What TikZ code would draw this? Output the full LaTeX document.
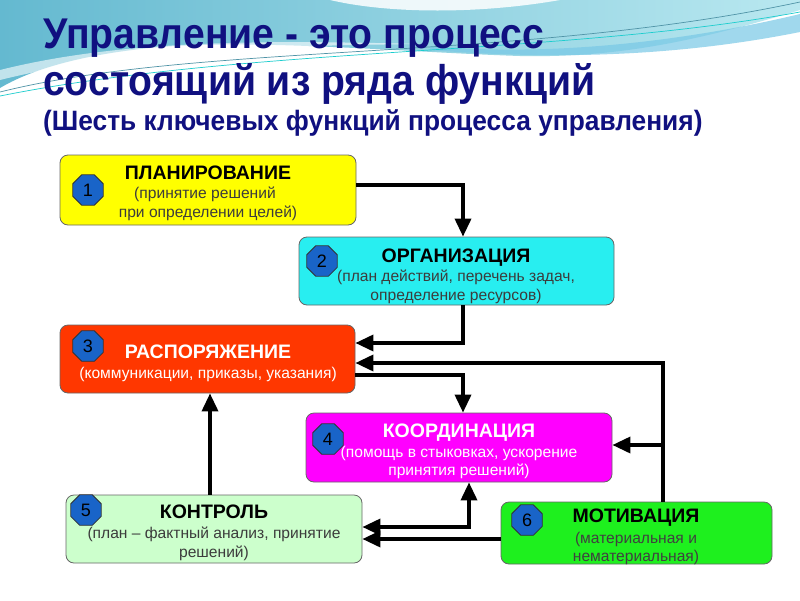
\documentclass[tikz,border=0pt]{standalone}
\usepackage{fontspec}
\setmainfont{Liberation Sans}
\newfontfamily\titlefont[FakeStretch=0.91]{Liberation Sans}
\newfontfamily\subtitlefont[FakeStretch=0.94]{Liberation Sans}
\usetikzlibrary{arrows.meta,shapes.geometric,calc}
\definecolor{navy}{RGB}{16,16,128}
\definecolor{tealA}{RGB}{100,185,208}
\definecolor{tealB}{RGB}{185,232,240}
\definecolor{bandC}{RGB}{120,200,230}
\definecolor{cYellow}{RGB}{255,255,0}
\definecolor{cCyan}{RGB}{40,238,240}
\definecolor{cRed}{RGB}{255,55,0}
\definecolor{cMag}{RGB}{255,0,255}
\definecolor{cLight}{RGB}{204,255,204}
\definecolor{cGreen}{RGB}{30,240,30}
\definecolor{octBlue}{RGB}{25,100,200}
\definecolor{subGray}{RGB}{60,60,60}
\tikzset{
  fbox/.style={draw=black!60, line width=0.8pt, rounded corners=8pt, inner sep=0pt},
  oct/.style={regular polygon, regular polygon sides=8, minimum size=33pt, inner sep=0pt,
    fill=octBlue, draw=black!80, line width=0.8pt, font=\fontsize{18}{18}\selectfont},
  head/.style={anchor=base, inner sep=0pt, font=\bfseries\fontsize{19.5}{19.5}\selectfont},
  sub/.style={anchor=base, inner sep=0pt, font=\fontsize{15.6}{15.6}\selectfont, text=subGray},
  ttl/.style={anchor=base west, inner sep=0pt, text=navy},
  conn/.style={line width=3.5pt, draw=black, line join=miter},
  tip/.style={-{Triangle[length=18pt, width=16pt]}},
  tips/.style={{Triangle[length=18pt, width=16pt]}-{Triangle[length=18pt, width=16pt]}}
}
\begin{document}
\begin{tikzpicture}[x=1pt,y=-1pt]
\useasboundingbox (0,0) rectangle (800,600);
\fill[white] (0,0) rectangle (800,600);
% wave background
\shade[left color=tealA, right color=tealB] (0,0) -- (800,0) -- (800,10)
  .. controls (700,40) and (620,58) .. (520,56)
  .. controls (400,52) and (250,38) .. (150,48)
  .. controls (80,55) and (30,70) .. (0,88) -- cycle;
\fill[bandC, opacity=0.7] (430,46) .. controls (560,58) and (700,38) .. (800,14)
  -- (800,32) .. controls (700,52) and (580,62) .. (430,50) -- cycle;
\fill[white, opacity=0.85] (330,0) .. controls (390,14) and (480,14) .. (560,0) -- cycle;
\fill[white, opacity=0.6] (0,70) .. controls (120,40) and (260,40) .. (420,44)
  .. controls (260,46) and (120,50) .. (0,80) -- cycle;
\draw[tealA!80!black, line width=0.7pt] (0,92) .. controls (200,42) and (520,62) .. (800,2);
\draw[cCyan!70!teal, line width=0.7pt] (0,96) .. controls (250,46) and (560,56) .. (800,12);

% title
\node[ttl, font=\titlefont\bfseries\fontsize{43}{43}\selectfont] (t1) at (43,48) {Управление - это процесс};
\node[ttl, font=\titlefont\bfseries\fontsize{43}{43}\selectfont] (t2) at (43,95) {состоящий из ряда функций};
\node[ttl, font=\subtitlefont\bfseries\fontsize{28}{28}\selectfont] (t3) at (43,130) {(Шесть ключевых функций процесса управления)};

% boxes
\node[fbox, fill=cYellow, minimum width=296pt, minimum height=70pt] (b1) at (208,190) {};
\node[fbox, fill=cCyan, minimum width=315pt, minimum height=68pt] (b2) at (456.5,271) {};
\node[fbox, fill=cRed, minimum width=295pt, minimum height=68pt] (b3) at (207.5,359) {};
\node[fbox, fill=cMag, minimum width=306pt, minimum height=69pt] (b4) at (459,447.5) {};
\node[fbox, fill=cLight, minimum width=296pt, minimum height=68pt] (b5) at (214,529) {};
\node[fbox, fill=cGreen, minimum width=271pt, minimum height=62pt] (b6) at (636.5,533) {};

% octagons
\node[oct] (o1) at (88,190) {1};
\node[oct] (o2) at (322,261) {2};
\node[oct] (o3) at (88,346) {3};
\node[oct] (o4) at (328,439) {4};
\node[oct] (o5) at (86,510) {5};
\node[oct] (o6) at (527,520) {6};

% texts
\node[head] (h1) at (208,179) {ПЛАНИРОВАНИЕ};
\node[sub] (s1a) at (205,198) {(принятие решений};
\node[sub] (s1b) at (208,217) {при определении целей)};

\node[head] (h2) at (456,262) {ОРГАНИЗАЦИЯ};
\node[sub] (s2a) at (456,281) {(план действий, перечень задач,};
\node[sub] (s2b) at (456,300) {определение ресурсов)};

\node[head, text=white] (h3) at (208,358) {РАСПОРЯЖЕНИЕ};
\node[sub, text=white] (s3a) at (208,378) {(коммуникации, приказы, указания)};

\node[head, text=white] (h4) at (459,437) {КООРДИНАЦИЯ};
\node[sub, text=white] (s4a) at (459,457) {(помощь в стыковках, ускорение};
\node[sub, text=white] (s4b) at (459,475) {принятия решений)};

\node[head] (h5) at (214,518) {КОНТРОЛЬ};
\node[sub] (s5a) at (214,538) {(план – фактный анализ, принятие};
\node[sub] (s5b) at (214,557) {решений)};

\node[head] (h6) at (636,522) {МОТИВАЦИЯ};
\node[sub, text=black!75] (s6a) at (636,543) {(материальная и};
\node[sub, text=black!75] (s6b) at (636,561) {нематериальная)};

% guide coordinates
\coordinate (xa) at (463,0);
\coordinate (xm) at (663,0);
\coordinate (xk) at (469,0);
\coordinate (xc) at (210,0);
\coordinate (y1) at (0,185);
\coordinate (y2) at (0,343);
\coordinate (y3) at (0,363);
\coordinate (y4) at (0,375);
\coordinate (y5) at (0,445);
\coordinate (y6) at (0,527);
\coordinate (y7) at (0,539);
\coordinate (jm) at (663,445);

% connectors
\draw[conn, tip] (b1.east |- y1) -| (b2.north -| xa);
\draw[conn, tip] (b2.south -| xa) |- (b3.east |- y2);
\draw[conn, tip] (b6.north -| xm) |- (b3.east |- y3);
\draw[conn, tip] (jm) -- (b4.east |- y5);
\draw[conn, tip] (b3.east |- y4) -| (b4.north -| xa);
\draw[conn, tip] (b5.north -| xc) -- (b3.south -| xc);
\draw[conn, tips] (b5.east |- y6) -| (b4.south -| xk);
\draw[conn, tip] (b6.west |- y7) -- (b5.east |- y7);
\end{tikzpicture}
\end{document}
